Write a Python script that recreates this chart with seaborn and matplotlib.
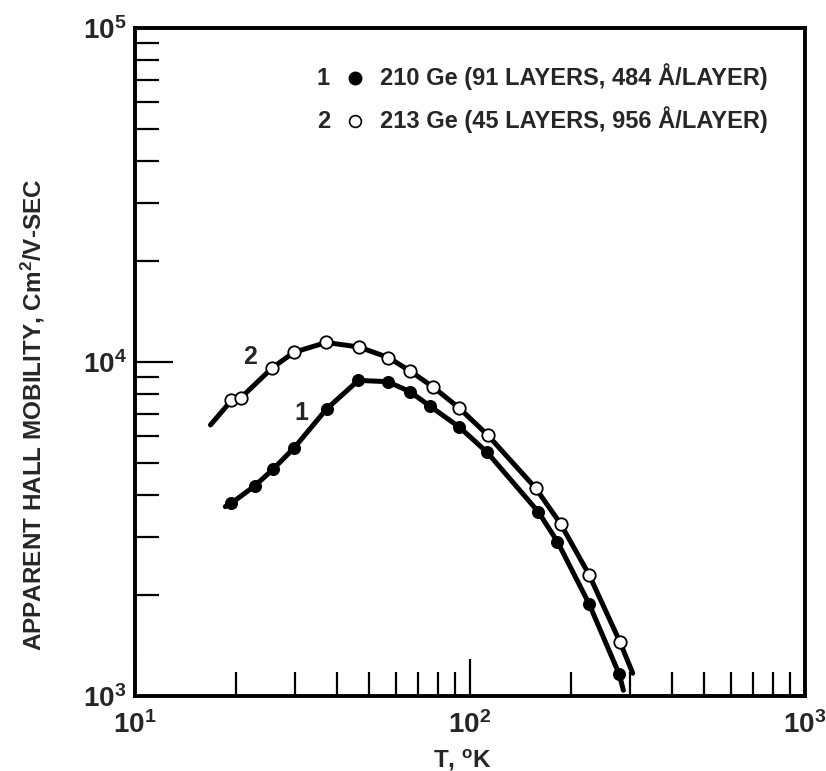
import numpy as np
import pandas as pd
import seaborn as sns
import matplotlib.pyplot as plt
from matplotlib.ticker import LogLocator, NullFormatter

# sample 1: 210 Ge (filled circles)
temp_1 = [19.4, 22.8, 25.8, 29.9, 37.3, 46.4, 56.8, 66.2, 76.2, 93.0, 112.4, 159.9, 182.3, 226.6, 279.1]
mob_1 = [3780, 4260, 4770, 5540, 7230, 8810, 8730, 8150, 7360, 6380, 5370, 3560, 2900, 1890, 1160]
# sample 2: 213 Ge (open circles)
temp_2 = [19.4, 20.7, 25.7, 29.8, 37.2, 46.6, 57.1, 66.2, 77.7, 93.0, 112.8, 157.1, 186.6, 226.6, 280.4]
mob_2 = [7670, 7810, 9610, 10690, 11440, 11090, 10310, 9400, 8410, 7270, 6050, 4190, 3270, 2310, 1450]

# ends of the drawn curves (beyond the first/last measured point)
curve_1_ends = ([18.6, 287.0], [3690, 1040])
curve_2_ends = ([16.8, 306.0], [6480, 1170])

legend_labels = ["210 Ge (91 LAYERS, 484 Å/LAYER)", "213 Ge (45 LAYERS, 956 Å/LAYER)"]

sns.set_theme(style="ticks")
plt.rcParams['font.family'] = ['Liberation Sans', 'DejaVu Sans']
plt.rcParams['font.weight'] = 'bold'
plt.rcParams['mathtext.fontset'] = 'custom'
plt.rcParams['mathtext.rm'] = 'Liberation Sans:bold'
plt.rcParams['mathtext.it'] = 'Liberation Sans:bold'
plt.rcParams['mathtext.bf'] = 'Liberation Sans:bold'
plt.rcParams['mathtext.default'] = 'regular'

df1 = pd.DataFrame({"T": temp_1, "mu": mob_1})
df2 = pd.DataFrame({"T": temp_2, "mu": mob_2})
line1 = pd.DataFrame({"T": [curve_1_ends[0][0]] + temp_1 + [curve_1_ends[0][1]],
                      "mu": [curve_1_ends[1][0]] + mob_1 + [curve_1_ends[1][1]]})
line2 = pd.DataFrame({"T": [curve_2_ends[0][0]] + temp_2 + [curve_2_ends[0][1]],
                      "mu": [curve_2_ends[1][0]] + mob_2 + [curve_2_ends[1][1]]})

fig = plt.figure(figsize=(8.26, 7.71), dpi=100)
ax = fig.add_axes([135/826, 1-696/771, 670/826, 668/771])

sns.lineplot(data=line1, x="T", y="mu", ax=ax, color="black", lw=3.6, estimator=None, sort=False)
sns.lineplot(data=line2, x="T", y="mu", ax=ax, color="black", lw=3.6, estimator=None, sort=False)
sns.scatterplot(data=df1, x="T", y="mu", ax=ax, color="black", s=70, edgecolor="black", linewidth=1, zorder=3)
sns.scatterplot(data=df2, x="T", y="mu", ax=ax, color="white", s=80, edgecolor="black", linewidth=1.3, zorder=3)

ax.set_xscale("log")
ax.set_yscale("log")
ax.set_xlim(10, 1000)
ax.set_ylim(1000, 100000)
ax.set_xlabel("")
ax.set_ylabel("")

for s in ax.spines.values():
    s.set_linewidth(2.8)
    s.set_color("black")

ax.xaxis.set_major_locator(LogLocator(base=10))
ax.yaxis.set_major_locator(LogLocator(base=10))
ax.xaxis.set_minor_locator(LogLocator(base=10, subs=np.arange(2, 10)))
ax.yaxis.set_minor_locator(LogLocator(base=10, subs=np.arange(2, 10)))
ax.xaxis.set_minor_formatter(NullFormatter())
ax.yaxis.set_minor_formatter(NullFormatter())
ax.tick_params(which="both", direction="in", top=False, right=False, color="black", labelsize=20)
ax.tick_params(which="major", length=27, width=1.6)
ax.tick_params(which="minor", length=17, width=1.6)
ax.tick_params(axis="x", which="major", pad=11)
ax.tick_params(axis="y", which="major", pad=6)

# curve numbers
ax.text(22.0, 10350, "2", fontsize=18, ha="center", va="center")
ax.text(31.3, 7030, "1", fontsize=18, ha="center", va="center")

# key in the upper right
rows_y = [0.925, 0.861]
for i, (lab, y) in enumerate(zip(legend_labels, rows_y)):
    ax.text(0.281, y - 0.011, str(i + 1), transform=ax.transAxes, fontsize=17, ha="center", va="baseline")
    if i == 0:
        ax.plot([0.328], [y], transform=ax.transAxes, marker="o", ms=9, color="black", clip_on=False)
    else:
        ax.plot([0.328], [y], transform=ax.transAxes, marker="o", ms=8.5, mfc="white", mec="black", mew=1.2, clip_on=False)
    ax.text(0.366, y - 0.011, lab, transform=ax.transAxes, fontsize=17, ha="left", va="baseline")

fig.text(33/826, 1-415/771, "APPARENT HALL MOBILITY, Cm$^2$/V-SEC", rotation=90,
         ha="center", va="center", fontsize=17.5)
fig.text(462/826, 1-760/771, "T, $^{o}$K", ha="center", va="center", fontsize=17.5)

fig.savefig("out.png", dpi=100, facecolor="white")
